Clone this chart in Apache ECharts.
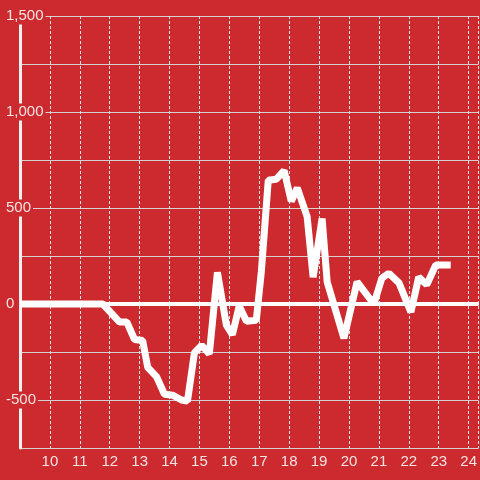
<!DOCTYPE html>
<html><head><meta charset="utf-8">
<script src="https://cdn.jsdelivr.net/npm/echarts@6/dist/echarts.min.js"></script>
<style>html,body{margin:0;padding:0;background:#cc2a2e;}#c{width:480px;height:480px;}</style>
</head><body><div id="c"></div>
<script>
var hours = [9, 11.77, 12.33, 12.57, 12.83, 13.1, 13.27, 13.57, 13.83, 14.1, 14.4, 14.6, 14.83, 15.07, 15.33, 15.6, 15.9, 16.1, 16.33, 16.57, 16.9, 17.07, 17.3, 17.57, 17.83, 18.07, 18.27, 18.6, 18.8, 19.1, 19.27, 19.83, 20.27, 20.83, 21.1, 21.33, 21.67, 22.07, 22.33, 22.6, 22.9, 23.4];
var values = [0, 0, -94, -94, -185, -190, -330, -380, -470, -475, -500, -505, -255, -215, -260, 165, -110, -160, -10, -90, -85, 170, 645, 650, 695, 535, 605, 455, 140, 445, 115, -178, 115, 0, 135, 160, 110, -42, 140, 100, 203, 203];
var yLabelValues = [-500, 0, 500, 1000, 1500];
var FONT = 'Liberation Sans, Arial, sans-serif';
var TXT = '#f3e3e3';
var BG = '#cc2a2e';
var data = hours.map(function (h, i) { return [h, values[i]]; });
var chart = echarts.init(document.getElementById('c'));
chart.setOption({
  backgroundColor: BG,
  animation: false,
  grid: { left: 20, right: 0, top: 16, bottom: 32 },
  xAxis: {
    type: 'value', min: 9, max: 24.333, interval: 1,
    axisLine: { show: true, lineStyle: { color: '#d8d8d8', width: 1 } },
    axisTick: { show: false },
    axisLabel: { color: TXT, fontSize: 15, fontFamily: FONT, margin: 6, showMinLabel: false, showMaxLabel: false },
    splitLine: { show: true, lineStyle: { color: '#e6e6e6', width: 1, type: [3, 2] } }
  },
  yAxis: [{
    type: 'value', min: -750, max: 1500, interval: 250,
    axisLine: { show: true, lineStyle: { color: '#f4f0f0', width: 3 } },
    axisTick: { show: false },
    axisLabel: { show: false },
    splitLine: { show: true, lineStyle: { color: '#d6d0d0', width: 1 } }
  }, {
    type: 'value', min: -750, max: 1500, position: 'left', offset: 14, z: 10,
    axisLine: { show: false }, axisTick: { show: false }, splitLine: { show: false },
    axisLabel: {
      inside: true, margin: 0, customValues: yLabelValues,
      color: TXT, fontSize: 15, fontFamily: FONT,
      backgroundColor: BG, padding: [1, 2, 1, 0],
      formatter: function (v) { return echarts.format.addCommas(v); }
    }
  }],
  series: [{
    type: 'line', data: data, yAxisIndex: 0, showSymbol: false, z: 5,
    lineStyle: { color: '#ffffff', width: 7 },
    markLine: {
      silent: true, symbol: 'none', label: { show: false },
      lineStyle: { color: '#ffffff', width: 4, type: 'solid' },
      data: [{ yAxis: 0 }]
    }
  }]
});
</script></body></html>
